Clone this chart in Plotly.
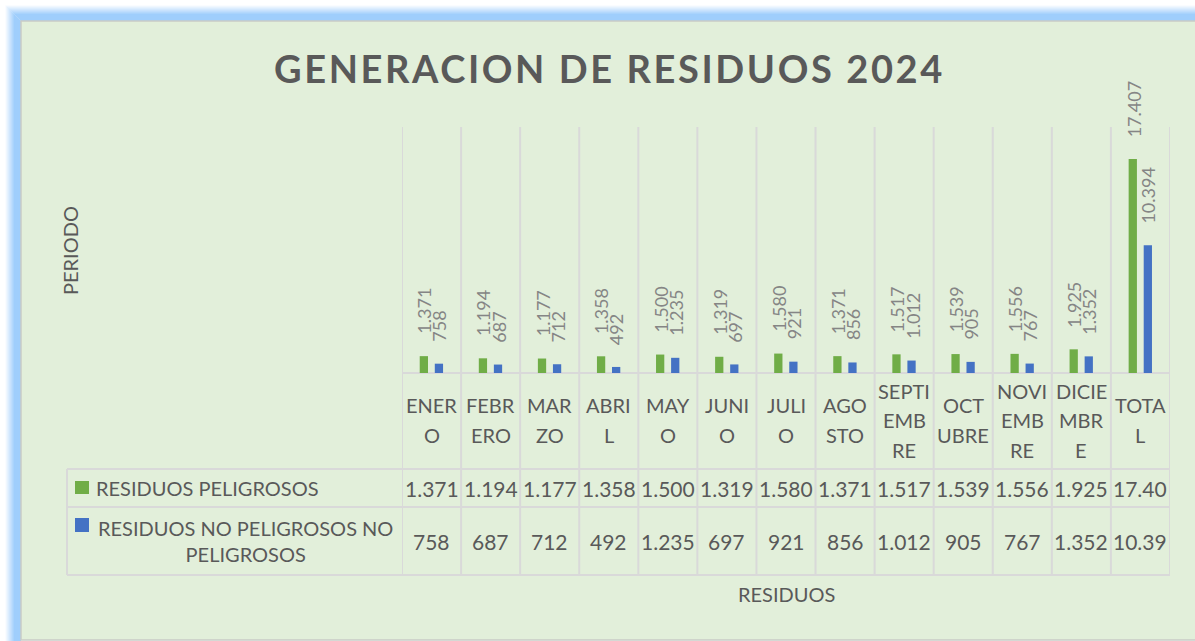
import plotly.graph_objects as go

# ---- data -------------------------------------------------------------
categories = ["ENERO", "FEBRERO", "MARZO", "ABRIL", "MAYO", "JUNIO", "JULIO",
              "AGOSTO", "SEPTIEMBRE", "OCTUBRE", "NOVIEMBRE", "DICIEMBRE", "TOTAL"]
# category names as they wrap inside the narrow table header cells
category_lines = [["ENER", "O"], ["FEBR", "ERO"], ["MAR", "ZO"], ["ABRI", "L"],
                  ["MAY", "O"], ["JUNI", "O"], ["JULI", "O"], ["AGO", "STO"],
                  ["SEPTI", "EMB", "RE"], ["OCT", "UBRE"], ["NOVI", "EMB", "RE"],
                  ["DICIE", "MBR", "E"], ["TOTA", "L"]]
peligrosos = [1371, 1194, 1177, 1358, 1500, 1319, 1580, 1371, 1517, 1539, 1556, 1925, 17407]
no_peligrosos = [758, 687, 712, 492, 1235, 697, 921, 856, 1012, 905, 767, 1352, 10394]
series_names = ["RESIDUOS PELIGROSOS", "RESIDUOS NO PELIGROSOS NO PELIGROSOS"]
series_labels = ["RESIDUOS PELIGROSOS", "RESIDUOS NO PELIGROSOS NO<br>PELIGROSOS"]
title_text = "GENERACION DE RESIDUOS 2024"
y_title = "PERIODO"
x_title = "RESIDUOS"

# ---- styling ----------------------------------------------------------
W, H = 1195, 641
GREEN = "#70AD47"
BLUE = "#4472C4"
PANEL = "#E2EFDA"
TEXT = "#595959"
LABEL = "#858585"
GRID = "#D9D9D9"
FONT = "Lato"

PLOT_L, PLOT_R, PLOT_T, BASE = 402, 1170, 127, 373
TABLE_L, HEAD_B, ROW1_B, TABLE_B = 67, 469, 507, 575


def px(x):
    return x / W


def py(y):
    return 1 - y / H


def fmt(v):
    return f"{v:,}".replace(",", ".")


fig = go.Figure()

for vals, color, off, name in [(peligrosos, GREEN, -0.2, series_names[0]),
                               (no_peligrosos, BLUE, 0.055, series_names[1])]:
    fig.add_trace(go.Bar(x=categories, y=vals, name=name, marker_color=color,
                         marker_line_width=0, width=0.14, offset=off,
                         showlegend=False, hoverinfo="x+y"))

shapes = []
# outer blue glow around the chart panel
for k in range(16, 0, -1):
    a = 0.66 if k <= 7 else 0.66 * (1 - (k - 7) / 9.5)
    shapes.append(dict(type="rect", xref="paper", yref="paper",
                       x0=px(21 - k + 0.5), x1=px(1400), y0=py(21 - k + 0.5), y1=py(800),
                       line=dict(color=f"rgba(110,180,250,{a:.3f})", width=1),
                       fillcolor="rgba(0,0,0,0)", layer="below"))
# chart panel
shapes.append(dict(type="rect", xref="paper", yref="paper",
                   x0=px(21), x1=px(1300), y0=py(21), y1=py(640),
                   line=dict(color="#C9CCC6", width=1.5), fillcolor=PANEL, layer="below"))

line_style = dict(color=GRID, width=2)
# category boundaries run through the plot and the data table
for i in range(len(categories) + 1):
    shapes.append(dict(type="line", xref="x", yref="paper",
                       x0=i - 0.5, x1=i - 0.5, y0=py(PLOT_T), y1=py(TABLE_B),
                       line=line_style, layer="below"))
# horizontal table rules
shapes.append(dict(type="line", xref="paper", yref="paper", x0=px(PLOT_L), x1=px(PLOT_R),
                   y0=py(BASE), y1=py(BASE), line=line_style, layer="below"))
for yy in (HEAD_B, ROW1_B, TABLE_B):
    shapes.append(dict(type="line", xref="paper", yref="paper", x0=px(TABLE_L), x1=px(PLOT_R),
                       y0=py(yy), y1=py(yy), line=line_style, layer="below"))
shapes.append(dict(type="line", xref="paper", yref="paper", x0=px(TABLE_L), x1=px(TABLE_L),
                   y0=py(HEAD_B), y1=py(TABLE_B), line=line_style, layer="below"))
# legend keys in the table
for (y0, y1), color in [((481, 494), GREEN), ((518, 532), BLUE)]:
    shapes.append(dict(type="rect", xref="paper", yref="paper", x0=px(75), x1=px(89),
                       y0=py(y0), y1=py(y1), line=dict(width=0), fillcolor=color))

ann = []
# title
ann.append(dict(text=f"<b><span style='letter-spacing:2.6px'>{title_text}</span></b>",
                xref="paper", yref="paper", x=px(609), y=py(68), xanchor="center",
                yanchor="middle", showarrow=False, font=dict(family=FONT, size=38, color=TEXT)))
# axis titles
ann.append(dict(text=y_title, xref="paper", yref="paper", x=px(70), y=py(251),
                xanchor="center", yanchor="middle", textangle=-90, showarrow=False,
                font=dict(family=FONT, size=20, color=TEXT)))
ann.append(dict(text=x_title, xref="paper", yref="paper", x=px(786), y=py(594),
                xanchor="center", yanchor="middle", showarrow=False,
                font=dict(family=FONT, size=20, color=TEXT)))

# value labels above the bars
for i, cat in enumerate(categories):
    for vals, shift in ((peligrosos, -7), (no_peligrosos, 8)):
        ann.append(dict(text=fmt(vals[i]), xref="x", yref="y", x=cat, y=vals[i],
                        xanchor="center", yanchor="bottom", xshift=shift, yshift=20,
                        textangle=-90, showarrow=False,
                        font=dict(family=FONT, size=18, color=LABEL)))

# table header: wrapped category names
for i, lines in enumerate(category_lines):
    n = len(lines)
    for j, part in enumerate(lines):
        yc = 420 + (j - (n - 1) / 2) * 29.5
        ann.append(dict(text=part, xref="x", yref="paper", x=categories[i], y=py(yc),
                        xanchor="center", yanchor="middle", showarrow=False,
                        font=dict(family=FONT, size=20, color=TEXT)))

# table rows: legend names and values (cells fit five characters)
ann.append(dict(text=series_labels[0], xref="paper", yref="paper", x=px(94), y=py(488),
                xanchor="left", yanchor="middle", showarrow=False,
                font=dict(family=FONT, size=20, color=TEXT)))
ann.append(dict(text=series_labels[1], xref="paper", yref="paper", x=px(245), y=py(541),
                xanchor="center", yanchor="middle", align="center", showarrow=False,
                font=dict(family=FONT, size=20, color=TEXT)))
for vals, yc in ((peligrosos, 488), (no_peligrosos, 541)):
    for i, cat in enumerate(categories):
        ann.append(dict(text=fmt(vals[i])[:5], xref="x", yref="paper", x=cat, y=py(yc),
                        xanchor="center", yanchor="middle", showarrow=False,
                        font=dict(family=FONT, size=21, color=TEXT)))

fig.update_layout(
    width=W, height=H, autosize=False,
    margin=dict(l=0, r=0, t=0, b=0),
    paper_bgcolor="white", plot_bgcolor="rgba(0,0,0,0)",
    separators=",.",
    shapes=shapes, annotations=ann,
    xaxis=dict(domain=[px(PLOT_L), px(PLOT_R)], type="category", range=[-0.5, 12.5],
               showticklabels=False, showgrid=False, zeroline=False, showline=False,
               ticks="", fixedrange=True),
    yaxis=dict(domain=[py(BASE), py(PLOT_T)], range=[0, 20000], showticklabels=False,
               showgrid=False, zeroline=False, showline=False, ticks="", fixedrange=True),
    showlegend=False,
)

fig.write_html("out.html")
